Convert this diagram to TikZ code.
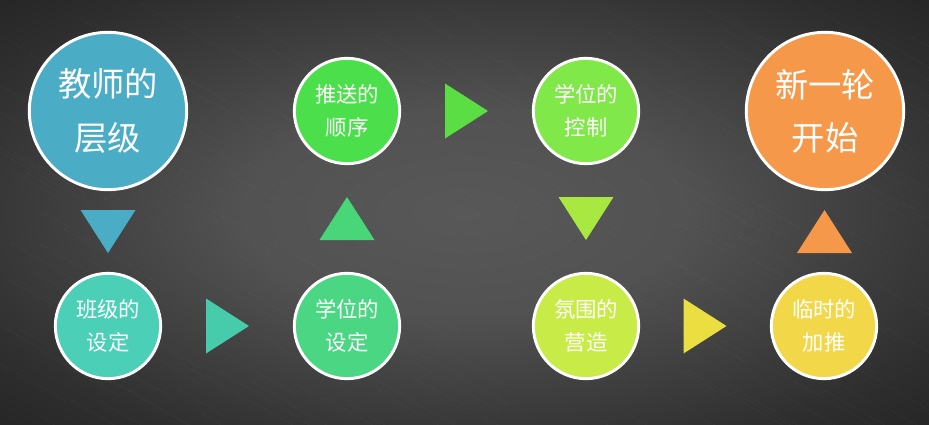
\documentclass[tikz,border=0pt]{standalone}
\usepackage{fontspec}
\newfontfamily\cjk{Noto Sans CJK SC}
\definecolor{bgdark}{RGB}{26, 26, 26}
\definecolor{bgside}{RGB}{46, 46, 46}
\definecolor{bgmid}{RGB}{88, 88, 88}
\definecolor{lvlblue}{RGB}{74, 172, 197}
\definecolor{clsteal}{RGB}{75, 207, 183}
\definecolor{arrteal}{RGB}{70, 204, 170}
\definecolor{seatgreen}{RGB}{75, 214, 132}
\definecolor{arrgreen}{RGB}{72, 214, 120}
\definecolor{pushgreen}{RGB}{75, 224, 75}
\definecolor{arrlime}{RGB}{90, 222, 68}
\definecolor{ctrlgreen}{RGB}{128, 232, 72}
\definecolor{arrylime}{RGB}{168, 232, 64}
\definecolor{moodlime}{RGB}{200, 235, 72}
\definecolor{arryellow}{RGB}{234, 222, 64}
\definecolor{addyellow}{RGB}{242, 216, 72}
\definecolor{neworange}{RGB}{246, 152, 74}
\usepackage{tikz}
\usetikzlibrary{calc, positioning}
\pgfdeclareradialshading{bgglow}{\pgfpoint{0bp}{0bp}}{%
  color(0bp)=(bgmid); color(12bp)=(bgmid!85!bgside); color(30bp)=(bgside);
  color(44bp)=(bgdark); color(72bp)=(bgdark)}
\tikzset{
  bignode/.style={circle, draw=white, line width=2.2pt, minimum size=118pt, inner sep=0pt,
    align=center, text=white, font=\cjk\fontsize{25}{40}\selectfont},
  smallnode/.style={circle, draw=white, line width=2.2pt, minimum size=79pt, inner sep=0pt,
    align=center, text=white, font=\cjk\fontsize{16}{24.5}\selectfont},
  brush/.style={line width=0.4pt, opacity=0.05}
}

\begin{document}
\begin{tikzpicture}[x=0.75pt, y=-0.75pt]
  % Background
  \shade[shading=bgglow] (0, 0) rectangle (929, 425);
  \useasboundingbox (0, 0) rectangle (929, 425);
  \begin{scope}
    \clip (0, 0) rectangle (929, 425);
    \pgfmathsetseed{7}
    \foreach \i in {1,...,260} {
      \pgfmathsetmacro{\bx}{rnd*1000-40}
      \pgfmathsetmacro{\by}{rnd*480}
      \pgfmathsetmacro{\bl}{40+rnd*120}
      \draw[brush, white] (\bx, \by) -- ++(30:\bl);
      \draw[brush, black] (\bx+3, \by+2) -- ++(30:\bl);
    }
  \end{scope}

  % Steps
  \node[bignode, fill=lvlblue] (level) at (108, 111) {教师的\\层级};
  \node[smallnode, fill=clsteal] (classset) at (108, 326) {班级的\\设定};
  \node[smallnode, fill=seatgreen] (seatset) at (347, 326) {学位的\\设定};
  \node[smallnode, fill=pushgreen] (pushorder) at (347, 111) {推送的\\顺序};
  \node[smallnode, fill=ctrlgreen] (seatctrl) at (586, 111) {学位的\\控制};
  \node[smallnode, fill=moodlime] (mood) at (586, 326) {氛围的\\营造};
  \node[smallnode, fill=addyellow] (extrapush) at (824, 326) {临时的\\加推};
  \node[bignode, fill=neworange] (newround) at (825, 111) {新一轮\\开始};

  % Triangle arrows, centred in the gaps
  \coordinate (g1) at ($(level.south)!0.5!(classset.north)$);
  \coordinate (g2) at ($(classset.east)!0.5!(seatset.west)$);
  \coordinate (g3) at ($(seatset.north)!0.5!(pushorder.south)$);
  \coordinate (g4) at ($(pushorder.east)!0.5!(seatctrl.west)$);
  \coordinate (g5) at ($(seatctrl.south)!0.5!(mood.north)$);
  \coordinate (g6) at ($(mood.east)!0.5!(extrapush.west)$);
  \coordinate (g7) at ($(extrapush.north)!0.5!(newround.south)$);

  \fill[lvlblue] ($(g1)+(-27.5,-21.5)$) -- ($(g1)+(27.5,-21.5)$) -- ($(g1)+(0,21.5)$) -- cycle;
  \fill[arrteal] ($(g2)+(-21.5,-27.5)$) -- ($(g2)+(-21.5,27.5)$) -- ($(g2)+(21.5,0)$) -- cycle;
  \fill[arrgreen] ($(g3)+(-27.5,21.5)$) -- ($(g3)+(27.5,21.5)$) -- ($(g3)+(0,-21.5)$) -- cycle;
  \fill[arrlime] ($(g4)+(-21.5,-27.5)$) -- ($(g4)+(-21.5,27.5)$) -- ($(g4)+(21.5,0)$) -- cycle;
  \fill[arrylime] ($(g5)+(-27.5,-21.5)$) -- ($(g5)+(27.5,-21.5)$) -- ($(g5)+(0,21.5)$) -- cycle;
  \fill[arryellow] ($(g6)+(-21.5,-27.5)$) -- ($(g6)+(-21.5,27.5)$) -- ($(g6)+(21.5,0)$) -- cycle;
  \fill[neworange] ($(g7)+(-27.5,21.5)$) -- ($(g7)+(27.5,21.5)$) -- ($(g7)+(0,-21.5)$) -- cycle;
\end{tikzpicture}
\end{document}
